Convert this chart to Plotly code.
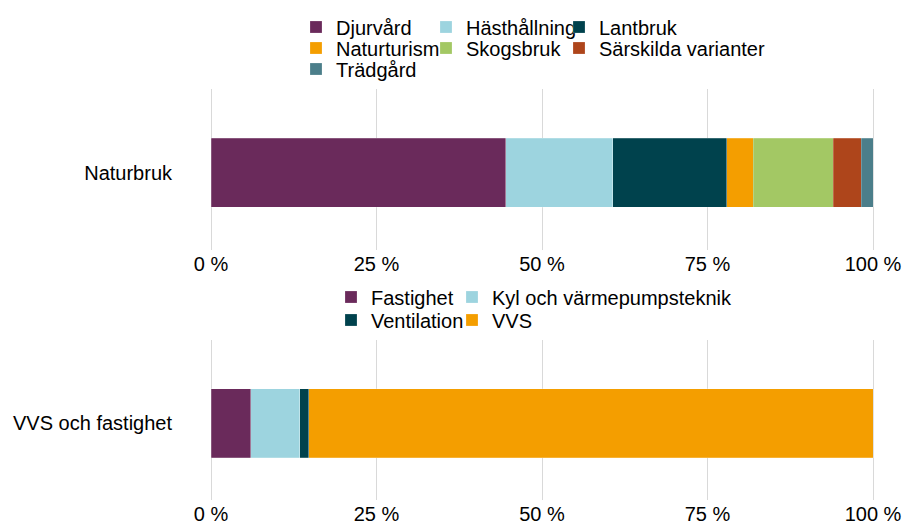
import plotly.graph_objects as go

# ---- data ----
naturbruk_category = ["Naturbruk"]
naturbruk_series = ["Djurvård", "Hästhållning", "Lantbruk", "Naturturism",
                    "Skogsbruk", "Särskilda varianter", "Trädgård"]
naturbruk_values = [44.5, 16.2, 17.2, 4.0, 12.1, 4.2, 1.8]

vvs_category = ["VVS och fastighet"]
vvs_series = ["Fastighet", "Kyl och värmepumpsteknik", "Ventilation", "VVS"]
vvs_values = [6.0, 7.4, 1.4, 85.2]

tick_values = [0, 25, 50, 75, 100]
tick_labels = ["0 %", "25 %", "50 %", "75 %", "100 %"]

# ---- styles ----
naturbruk_colors = ["#6A2A5B", "#9DD4DF", "#00424D", "#F49E00",
                    "#A3C864", "#AE451B", "#4B7E8A"]
vvs_colors = ["#6A2A5B", "#9DD4DF", "#00424D", "#F49E00"]
# legend cell positions (text start x, row centre y) in pixels
naturbruk_legend_pos = [(337, 27), (467, 27), (600, 27), (337, 48),
                        (467, 48), (600, 48), (337, 69)]
vvs_legend_pos = [(372, 297), (493, 297), (372, 320), (493, 320)]

FONT = "Liberation Sans, Arial, sans-serif"
W, H = 904, 528
LEG_TEXT_OFFSET = 41


def py(px):
    return 1 - px / H


def leg(xpx, ypx):
    return dict(orientation="h", x=(xpx - LEG_TEXT_OFFSET) / W, xanchor="left",
                y=py(ypx), yanchor="middle",
                font=dict(family=FONT, size=20, color="#000000"),
                bgcolor="rgba(0,0,0,0)", borderwidth=0,
                itemclick=False, itemdoubleclick=False)


fig = go.Figure()
legends = {}
k = 0
for name, val, col, pos in zip(naturbruk_series, naturbruk_values,
                               naturbruk_colors, naturbruk_legend_pos):
    k += 1
    lname = "legend" if k == 1 else f"legend{k}"
    legends[lname] = leg(*pos)
    fig.add_trace(go.Bar(
        x=[val], y=naturbruk_category, name=name, orientation="h",
        marker=dict(color=col, line=dict(color="rgba(255,255,255,0.35)", width=0.6)),
        width=0.43, xaxis="x", yaxis="y", legend=lname, hoverinfo="name+x"))
for name, val, col, pos in zip(vvs_series, vvs_values, vvs_colors, vvs_legend_pos):
    k += 1
    lname = f"legend{k}"
    legends[lname] = leg(*pos)
    fig.add_trace(go.Bar(
        x=[val], y=vvs_category, name=name, orientation="h",
        marker=dict(color=col, line=dict(color="rgba(255,255,255,0.35)", width=0.6)),
        width=0.43, xaxis="x2", yaxis="y2", legend=lname, hoverinfo="name+x"))

# 0 % at x=211 px, 100 % at x=873 px; range padded so edge gridlines show
PAD = 0.3
ppu = (873 - 211) / 100
xdom = [(211 - PAD * ppu) / W, (873 + PAD * ppu) / W]
xaxis_common = dict(
    range=[-PAD, 100 + PAD], tickvals=tick_values, ticktext=tick_labels,
    showgrid=True, gridcolor="#D9D9D9", gridwidth=1, zeroline=False,
    showline=False, ticks="",
    tickfont=dict(family=FONT, size=20, color="#000000"),
    fixedrange=True, domain=xdom, automargin=False)
yaxis_common = dict(
    range=[-0.48, 0.52], showgrid=False, zeroline=False, showline=False,
    ticks="", ticklabelstandoff=36, automargin=False,
    tickfont=dict(family=FONT, size=20, color="#000000"), fixedrange=True)

fig.update_layout(
    width=W, height=H, margin=dict(l=0, r=0, t=0, b=0, autoexpand=False),
    paper_bgcolor="white", plot_bgcolor="white", barmode="stack",
    font=dict(family=FONT, size=20, color="#000000"),
    xaxis=dict(xaxis_common, anchor="y"),
    yaxis=dict(yaxis_common, domain=[py(250), py(89)], anchor="x"),
    xaxis2=dict(xaxis_common, anchor="y2"),
    yaxis2=dict(yaxis_common, domain=[py(500), py(340)], anchor="x2"),
    showlegend=True,
    **legends,
)

fig.write_html("out.html",
               config={"displayModeBar": False},
               post_script="document.body.style.margin='0';"
                           "document.body.style.overflow='hidden';")
